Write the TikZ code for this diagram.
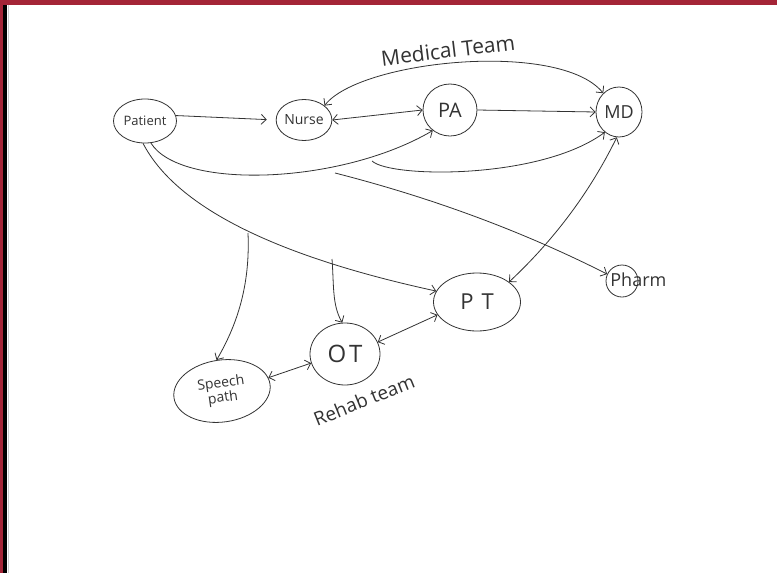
\documentclass[tikz,border=0pt]{standalone}
\usepackage{fontspec}
\setmainfont{Open Sans}
\usetikzlibrary{arrows.meta, arrows, shapes.geometric, positioning, calc}
\definecolor{vienDo}{HTML}{A42537}
\definecolor{mucBut}{HTML}{333333}

\tikzset{
  vong/.style={draw=mucBut, ellipse, line width=0.8pt, inner sep=0pt, text=mucBut},
  chu/.style={text=mucBut, inner sep=1pt},
}

\begin{document}
\begin{tikzpicture}[x=1pt, y=-1pt, line width=0.8pt, >={Straight Barb[length=5pt,width=10pt]}]

        % Khung nền
        \useasboundingbox (0,0) rectangle (777,573);
        \fill[white] (0,0) rectangle (777,573);
        \fill[vienDo] (0,0) rectangle (777,5); % Viền trên
        \fill[vienDo] (0,0) rectangle (3,573); % Viền trái
        \fill[black] (3,5) rectangle (7,573);
        \draw[gray!40, line width=0.6pt] (8.5,5) -- (8.5,573);

        % Các vòng (nút)
        \node[vong, minimum width=63, minimum height=44, font=\fontsize{13}{14}\selectfont] (patient) at (145,121) {Patient};
        \node[vong, minimum width=52, minimum height=41, font=\fontsize{14}{16}\selectfont] (nurse) at (304,120) {Nurse};
        \node[vong, minimum width=54, minimum height=52, font=\fontsize{20}{22}\selectfont] (pa) at (450,110) {PA};
        \node[vong, minimum width=46, minimum height=50, font=\fontsize{18}{20}\selectfont] (md) at (619,112) {MD};
        \node[vong, minimum width=87, minimum height=58, font=\fontsize{22}{24}\selectfont] (pt) at (477,302) {P\kern8pt T};
        \node[vong, minimum width=70, minimum height=62, font=\fontsize{24}{26}\selectfont] (ot) at (345,354) {O\kern3pt T};
        \node[vong, minimum width=97, minimum height=62, align=center, rotate=8, font=\fontsize{14}{15}\selectfont] (speech) at (222,391) {Speech\\path};
        \node[vong, minimum width=32, minimum height=32] (pharm) at (622,281) {};
        \node[chu, anchor=west, font=\fontsize{18}{19}\selectfont] (pharmchu) at (609,280) {Pharm}; % Chữ tràn ra ngoài vòng

        % Nhãn nhóm
        \node[chu, rotate=7, font=\fontsize{21}{22}\selectfont] (medteam) at (448,50) {Medical Team};
        \node[chu, rotate=22, font=\fontsize{19}{20}\selectfont] (rehab) at (364,400) {Rehab team};

        % Điểm rẽ nhánh
        \coordinate (nhanhMD) at (372,161);
        \coordinate (nhanhPharm) at (335,173);
        \coordinate (nhanhSpeech) at (248,233);
        \coordinate (nhanhOT) at (332,259);

        % Nhóm y tế
        \draw[->, mucBut, shorten >=9pt] (patient.10) -- (nurse.180); % Patient -> Nurse
        \draw[<->, mucBut] (nurse.east) -- (pa.west); % Nurse <-> PA
        \draw[->, mucBut] (pa.east) -- (md.west); % PA -> MD
        \draw[<->, mucBut] (nurse.35) .. controls (360,60) and (560,40) .. (md.130); % Nurse <-> MD
        \draw[->, mucBut] (patient.-75) .. controls (180,190) and (340,185) .. (pa.-130); % Patient -> PA
        \draw[->, mucBut] (nhanhMD) .. controls (390,178) and (540,180) .. (md.-125); % -> MD
        \draw[->, mucBut] (nhanhPharm) .. controls (429,197) and (520,230) .. (pharm.155); % -> Pharm
        \draw[<->, mucBut] (md.-95) .. controls (590,192) and (554,240) .. (pt.32); % MD <-> PT

        % Nhóm phục hồi
        \draw[->, mucBut] (patient.-95) .. controls (175,205) and (270,255) .. (pt.165); % Patient -> PT
        \draw[->, mucBut] (nhanhSpeech) .. controls (250,280) and (240,320) .. (speech.92); % -> Speech path
        \draw[->, mucBut] (nhanhOT) .. controls (334,285) and (332,305) .. (ot.95); % -> OT
        \draw[<->, mucBut] (speech.8) -- (ot.-165); % Speech <-> OT
        \draw[<->, mucBut] (ot.20) -- (pt.-162); % OT <-> PT

\end{tikzpicture}
\end{document}
